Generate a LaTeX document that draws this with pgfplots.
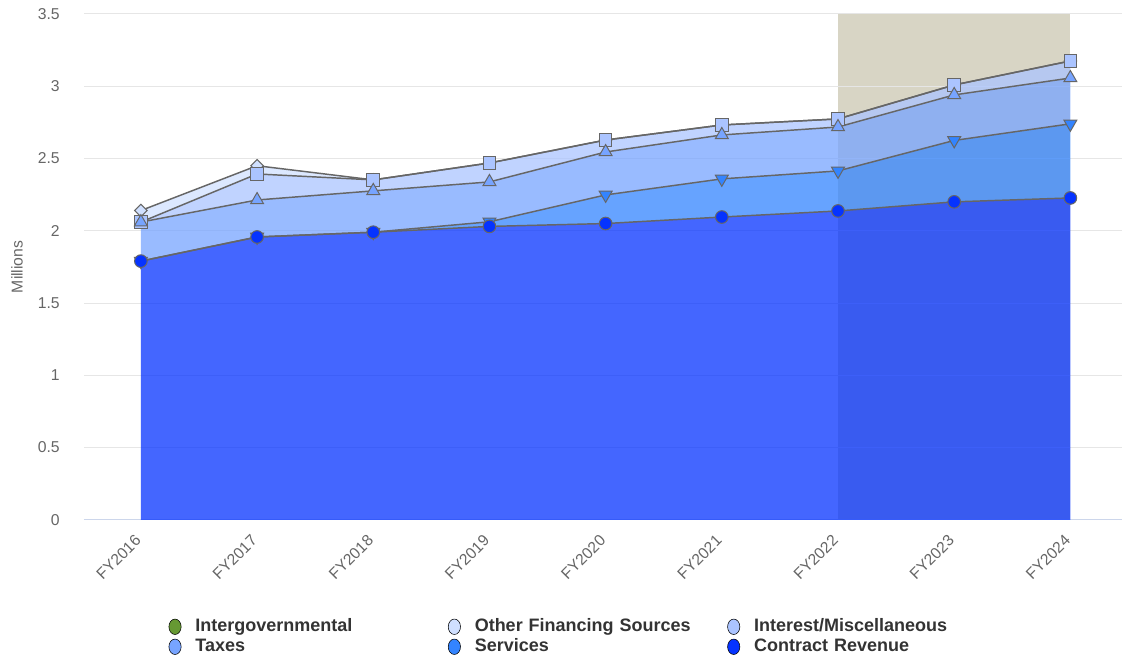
\documentclass[border=0pt]{standalone}
\usepackage{fontspec}
\setmainfont{Liberation Sans}
\usepackage{pgfplots}
\usepackage{pgfplotstable}
\pgfplotsset{compat=1.18}
\usepgfplotslibrary{fillbetween}

\definecolor{linegray}{HTML}{666666}
\definecolor{ticktext}{HTML}{666666}
\definecolor{legtext}{HTML}{333333}
\definecolor{gridcol}{HTML}{E6E6E6}
\definecolor{axiscol}{HTML}{CCD6EB}
\definecolor{bandcol}{HTML}{D8D5C5}
\definecolor{cInter}{HTML}{669933}
\definecolor{cOther}{HTML}{D0E0FF}
\definecolor{cInterest}{HTML}{ABC4FF}
\definecolor{cTaxes}{HTML}{77A4FF}
\definecolor{cServices}{HTML}{3384FF}
\definecolor{cContract}{HTML}{0533FF}

% cumulative (stacked) heights, millions
\pgfplotstableread{
x  cr     sv     tx     im     of
0  1.790  1.790  2.060  2.060  2.140
1  1.957  1.957  2.213  2.393  2.450
2  1.990  1.990  2.276  2.352  2.352
3  2.030  2.062  2.338  2.469  2.469
4  2.050  2.248  2.545  2.628  2.628
5  2.095  2.359  2.663  2.732  2.732
6  2.137  2.414  2.718  2.774  2.774
7  2.200  2.625  2.940  3.009  3.009
8  2.227  2.740  3.057  3.175  3.175
}\revdata

\begin{document}
\begin{tikzpicture}
\begin{axis}[
    set layers,
    scale only axis,
    width=778.5pt, height=379.5pt,
    xmin=-0.49, xmax=8.44,
    ymin=0, ymax=3.5,
    xtick={0,...,8},
    xticklabels={FY2016,FY2017,FY2018,FY2019,FY2020,FY2021,FY2022,FY2023,FY2024},
    ytick={0,0.5,1,1.5,2,2.5,3,3.5},
    major tick length=0pt,
    axis x line*=bottom,
    axis y line*=left,
    x axis line style={draw=axiscol, line width=0.75pt},
    y axis line style={draw=none},
    ymajorgrids,
    grid style={draw=gridcol, line width=0.75pt},
    /pgf/number format/assume math mode=true,
    tick label style={font=\fontsize{11.8}{14}\selectfont, text=ticktext},
    yticklabel style={anchor=east, inner sep=0pt, xshift=-18pt},
    xticklabel style={xshift=-2pt, yshift=-13.5pt, rotate=45, anchor=east, inner sep=0pt},
    ylabel={Millions},
    ylabel style={at={(rel axis cs:-0.0645,0.5)}, anchor=center, font=\fontsize{11.8}{14}\selectfont, text=ticktext},
    legend image code/.code={\fill[#1] (0pt,0pt) ellipse (4.6pt and 5.8pt);},
    legend columns=3,
    legend cell align=left,
    legend style={draw=none, fill=none,
        at={(rel axis cs:0.0775,-0.186)}, anchor=north west,
        font=\fontsize{13.5}{15}\selectfont\bfseries,
        text=legtext,
        nodes={text width=189.5pt, inner xsep=0pt, inner ysep=1pt, text height=10pt, text depth=3pt},
        /tikz/every odd column/.style={column sep=10.5pt}},
]
\begin{pgfonlayer}{axis background}
\fill[bandcol] (axis cs:6,0) rectangle (axis cs:8,3.5);
\end{pgfonlayer}
\path[name path=zero] (axis cs:0,0) -- (axis cs:8,0);

\addplot[forget plot, name path=of, color=linegray, line width=1.1pt,
    mark=square*, mark size=3.3pt,
    mark options={rotate=45, fill=cOther, draw=linegray, line width=0.75pt}]
    table[x=x, y=of] {\revdata};
\addplot[forget plot, name path=im, color=linegray, line width=1.1pt,
    mark=square*, mark size=4.75pt,
    mark options={fill=cInterest, draw=linegray, line width=0.75pt}]
    table[x=x, y=im] {\revdata};
\addplot[forget plot, name path=tx, color=linegray, line width=1.1pt,
    mark=triangle*, mark size=5.6pt,
    mark options={fill=cTaxes, draw=linegray, line width=0.75pt}]
    table[x=x, y=tx] {\revdata};
\addplot[forget plot, name path=sv, color=linegray, line width=1.1pt,
    mark=triangle*, mark size=5.6pt,
    mark options={rotate=180, fill=cServices, draw=linegray, line width=0.75pt}]
    table[x=x, y=sv] {\revdata};
\addplot[forget plot, name path=cr, color=linegray, line width=1.1pt,
    mark=*, mark size=4.75pt,
    mark options={fill=cContract, draw=linegray, line width=0.75pt}]
    table[x=x, y=cr] {\revdata};

\addplot[forget plot, fill=cContract, fill opacity=0.75, draw=none] fill between[of=cr and zero];
\addplot[forget plot, fill=cServices, fill opacity=0.75, draw=none] fill between[of=sv and cr];
\addplot[forget plot, fill=cTaxes, fill opacity=0.75, draw=none] fill between[of=tx and sv];
\addplot[forget plot, fill=cInterest, fill opacity=0.75, draw=none] fill between[of=im and tx];
\addplot[forget plot, fill=cOther, fill opacity=0.75, draw=none] fill between[of=of and im];

\addlegendimage{fill=cInter}
\addlegendentry{Intergovernmental}
\addlegendimage{fill=cOther}
\addlegendentry{Other Financing Sources}
\addlegendimage{fill=cInterest}
\addlegendentry{Interest/Miscellaneous}
\addlegendimage{fill=cTaxes}
\addlegendentry{Taxes}
\addlegendimage{fill=cServices}
\addlegendentry{Services}
\addlegendimage{fill=cContract}
\addlegendentry{Contract Revenue}
\end{axis}
\path (current axis.south west) ++(-63pt,-104.25pt);
\path (current axis.north east) ++(0pt,10.5pt);
\end{tikzpicture}
\end{document}
